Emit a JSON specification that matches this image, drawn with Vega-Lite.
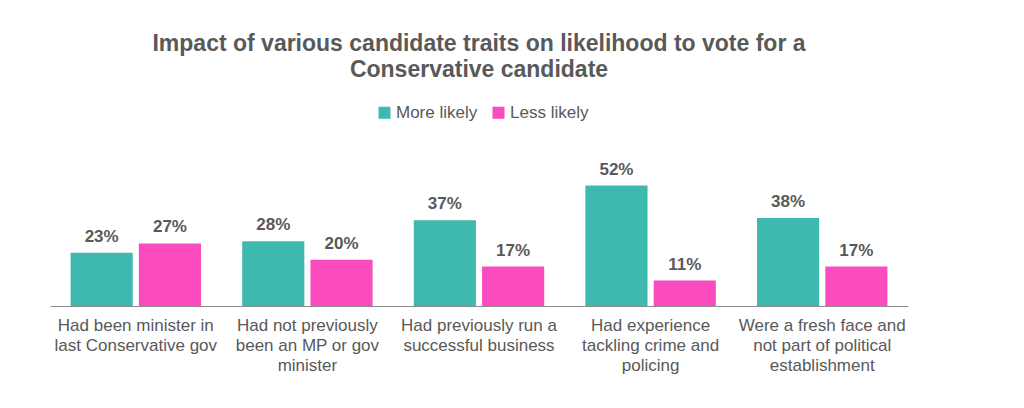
{
  "$schema": "https://vega.github.io/schema/vega-lite/v6.json",
  "width": 858,
  "height": 139,
  "autosize": {"type": "none"},
  "padding": {"left": 50, "top": 167, "right": 116, "bottom": 102},
  "background": "white",
  "title": {
    "text": ["Impact of various candidate traits on likelihood to vote for a", "Conservative candidate"],
    "fontSize": 23,
    "font": "Liberation Sans",
    "fontWeight": "bold",
    "color": "#595959",
    "anchor": "middle",
    "lineHeight": 26,
    "offset": 22
  },
  "data": {
    "values": [
      {"trait": "Had been minister in|last Conservative gov", "group": "More likely", "value": 0.23},
      {"trait": "Had been minister in|last Conservative gov", "group": "Less likely", "value": 0.27},
      {"trait": "Had not previously|been an MP or gov|minister", "group": "More likely", "value": 0.28},
      {"trait": "Had not previously|been an MP or gov|minister", "group": "Less likely", "value": 0.20},
      {"trait": "Had previously run a|successful business", "group": "More likely", "value": 0.37},
      {"trait": "Had previously run a|successful business", "group": "Less likely", "value": 0.17},
      {"trait": "Had experience|tackling crime and|policing", "group": "More likely", "value": 0.52},
      {"trait": "Had experience|tackling crime and|policing", "group": "Less likely", "value": 0.11},
      {"trait": "Were a fresh face and|not part of political|establishment", "group": "More likely", "value": 0.38},
      {"trait": "Were a fresh face and|not part of political|establishment", "group": "Less likely", "value": 0.17}
    ]
  },
  "encoding": {
    "x": {
      "field": "trait",
      "type": "nominal",
      "sort": null,
      "scale": {"paddingInner": 0.24, "paddingOuter": 0.12},
      "axis": {
        "title": null,
        "ticks": false,
        "domainColor": "#8c8c8c",
        "domainWidth": 1,
        "labelAngle": 0,
        "labelFont": "Liberation Sans",
        "labelFontSize": 17,
        "labelColor": "#595959",
        "labelLineHeight": 20,
        "labelPadding": 11,
        "labelExpr": "split(datum.label, '|')"
      }
    },
    "xOffset": {
      "field": "group",
      "type": "nominal",
      "sort": ["More likely", "Less likely"],
      "scale": {"paddingInner": 0.09, "paddingOuter": 0}
    },
    "y": {
      "field": "value",
      "type": "quantitative",
      "scale": {"domain": [0, 0.6]},
      "axis": null
    }
  },
  "layer": [
    {
      "mark": {"type": "bar"},
      "encoding": {
        "color": {
          "field": "group",
          "type": "nominal",
          "sort": ["More likely", "Less likely"],
          "scale": {"domain": ["More likely", "Less likely"], "range": ["#3EB9AD", "#FA4BBF"]},
          "legend": {
            "title": null,
            "orient": "none",
            "direction": "horizontal",
            "legendX": 326,
            "legendY": -63,
            "symbolType": "square",
            "symbolSize": 144,
            "symbolStrokeWidth": 0,
            "symbolOpacity": 1,
            "labelFont": "Liberation Sans",
            "labelFontSize": 17,
            "labelColor": "#595959",
            "labelOffset": 3,
            "columnPadding": 12
          }
        }
      }
    },
    {
      "mark": {
        "type": "text",
        "baseline": "alphabetic",
        "dy": -11,
        "font": "Liberation Sans",
        "fontSize": 17,
        "fontWeight": "bold",
        "color": "#595959"
      },
      "encoding": {
        "text": {"field": "value", "type": "quantitative", "format": ".0%"}
      }
    }
  ],
  "config": {
    "view": {"stroke": null}
  }
}
